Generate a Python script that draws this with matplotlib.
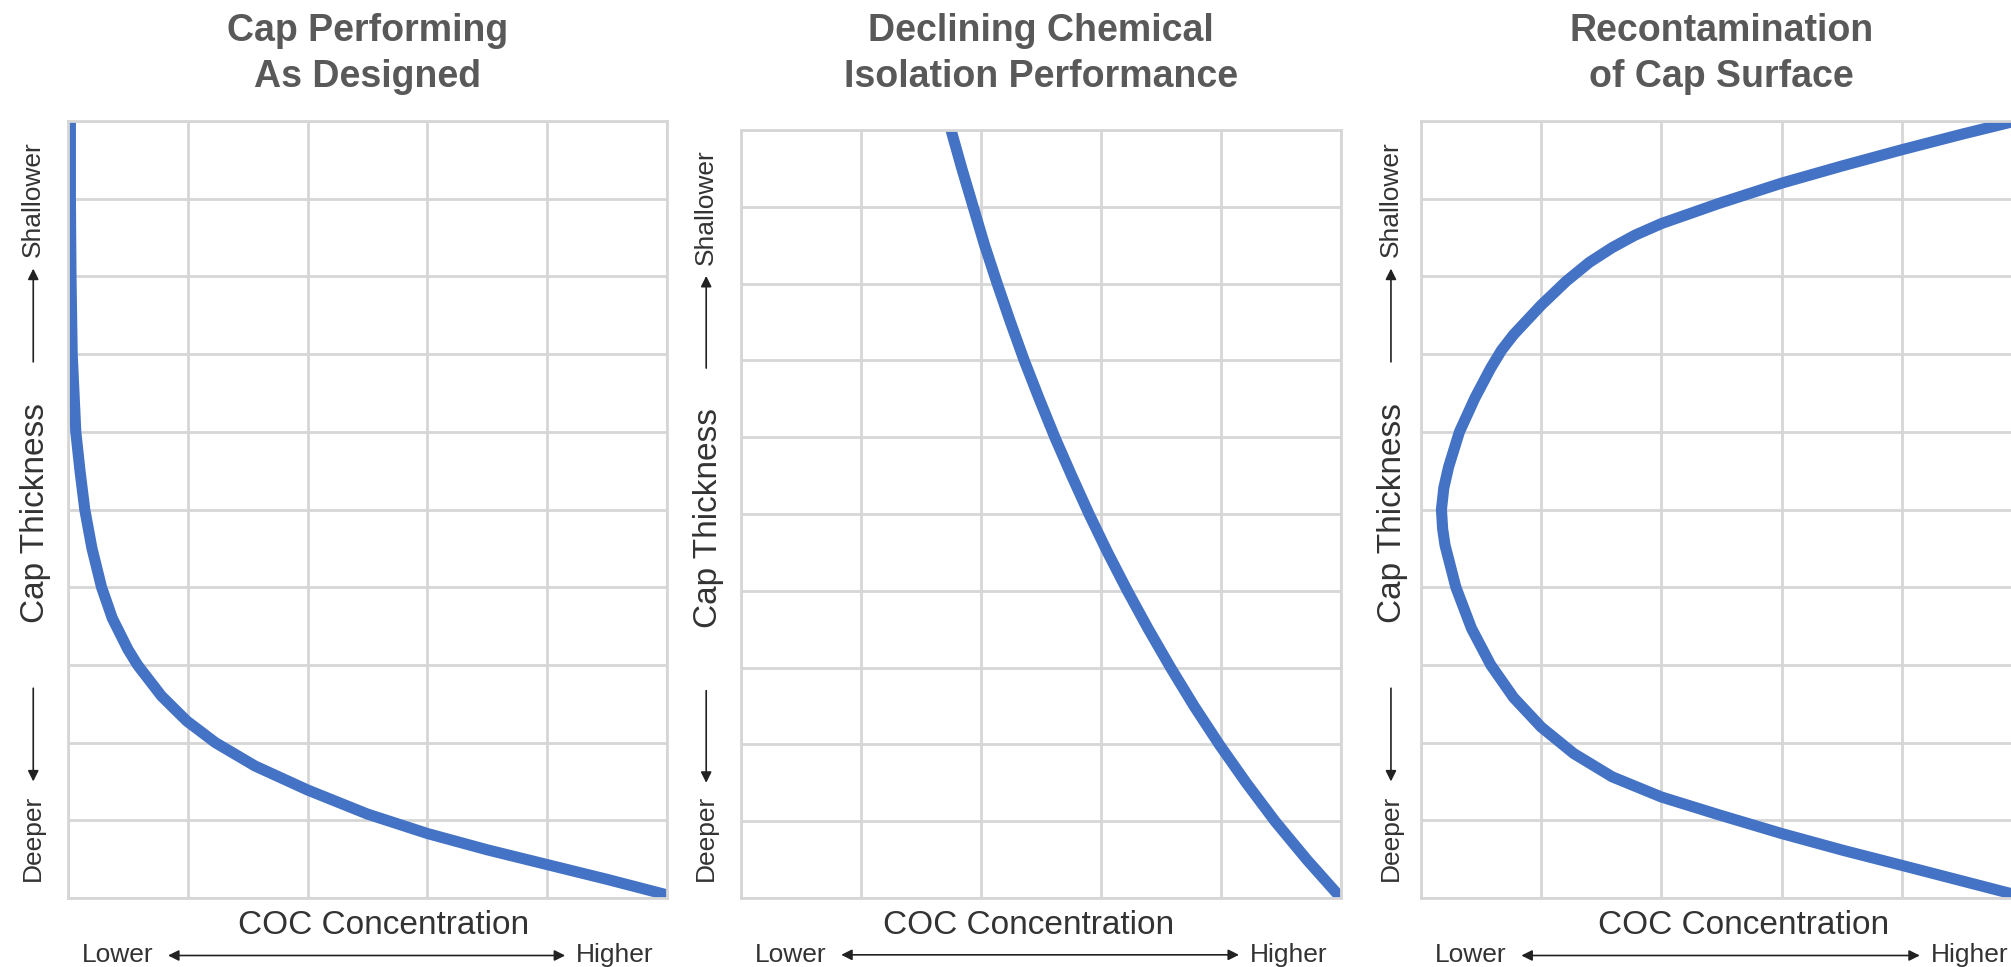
import matplotlib
matplotlib.use('Agg')
import matplotlib.pyplot as plt

plt.rcParams['font.family'] = ['Liberation Sans', 'DejaVu Sans']

# Farben
LINE_COLOR = "#4472C4"
GRID_COLOR = "#d6d6d6"
TITLE_COLOR = "#595959"
TEXT_COLOR = "#333333"

# Daten (x = COC-Konzentration 0..5, y = Kappendicke 0 tief .. 10 flach)
titles = ["Cap Performing\nAs Designed",
          "Declining Chemical\nIsolation Performance",
          "Recontamination\nof Cap Surface"]

designed_x = [0.02, 0.02, 0.025, 0.035, 0.05, 0.065, 0.1, 0.14, 0.2, 0.28, 0.37, 0.5,
              0.58, 0.78, 0.99, 1.23, 1.56, 2.0, 2.5, 3.0, 3.5, 4.0, 4.5, 5.0]
designed_y = [10, 9, 8, 7, 6.5, 6, 5.5, 5, 4.5, 4, 3.6, 3.2,
              3.0, 2.6, 2.28, 2.0, 1.7, 1.39, 1.08, 0.83, 0.62, 0.43, 0.24, 0.04]

declining_x = [1.75, 1.84, 1.935, 2.03, 2.135, 2.245, 2.36, 2.485, 2.615, 2.755, 2.9,
               3.055, 3.22, 3.395, 3.58, 3.775, 3.985, 4.21, 4.45, 4.715, 5.0]
declining_y = [10, 9.5, 9, 8.5, 8, 7.5, 7, 6.5, 6, 5.5, 5,
               4.5, 4, 3.5, 3, 2.5, 2, 1.5, 1, 0.5, 0]

recontam_x = [5.0, 4.5, 4.0, 3.5, 3.0, 2.48, 2.0, 1.78, 1.59, 1.4, 1.21, 1.0, 0.77, 0.67,
              0.58, 0.45, 0.32, 0.23, 0.19, 0.17, 0.18, 0.2, 0.29, 0.42, 0.58, 0.77, 1.0,
              1.27, 1.59, 2.0, 2.48, 3.0, 3.52, 4.0, 4.5, 5.0]
recontam_y = [10.02, 9.83, 9.63, 9.42, 9.2, 8.94, 8.68, 8.53, 8.37, 8.18, 7.94, 7.63, 7.25, 7.05,
              6.82, 6.44, 6.0, 5.55, 5.28, 5.0, 4.75, 4.54, 4.0, 3.47, 3.0, 2.58, 2.2,
              1.86, 1.56, 1.3, 1.07, 0.83, 0.61, 0.42, 0.22, 0.02]

curves = [(designed_x, designed_y), (declining_x, declining_y), (recontam_x, recontam_y)]

# Layout in Pixeln (links, oben, rechts, unten)
W, H = 2011, 967
boxes = [(68, 121, 667, 898), (741, 130, 1341, 898), (1421, 121, 2022, 898)]
coc_x = [0.526, 0.48, 0.537]
ylab_x = [-0.055, -0.055, -0.047]

fig = plt.figure(figsize=(W / 100, H / 100), dpi=100)

for i, (l, t, r, b) in enumerate(boxes):
    ax = fig.add_axes([l / W, 1 - b / H, (r - l) / W, (b - t) / H])
    ax.set_xlim(0, 5)
    ax.set_ylim(0, 10)
    ax.set_xticks(range(6))
    ax.set_yticks(range(11))
    ax.tick_params(length=0, labelbottom=False, labelleft=False)
    ax.grid(True, color=GRID_COLOR, linewidth=2)
    for s in ax.spines.values():
        s.set_color(GRID_COLOR)
        s.set_linewidth(2)

    x, y = curves[i]
    ax.plot(x, y, color=LINE_COLOR, linewidth=8, solid_capstyle='butt', solid_joinstyle='round')

    # Titel
    fig.text((l + r) / 2 / W, 1 - 54 / H, titles[i], ha='center', va='center',
             fontsize=27, fontweight='bold', color=TITLE_COLOR, linespacing=1.33)

    # x-Achse
    ax.text(coc_x[i], -0.036, "COC Concentration", transform=ax.transAxes,
            ha='center', va='center', fontsize=24, color=TEXT_COLOR)
    ax.text(0.083, -0.074, "Lower", transform=ax.transAxes,
            ha='center', va='center', fontsize=19, color=TEXT_COLOR)
    ax.text(0.913, -0.074, "Higher", transform=ax.transAxes,
            ha='center', va='center', fontsize=19, color=TEXT_COLOR)
    ax.annotate('', xy=(0.83, -0.074), xytext=(0.167, -0.074), xycoords='axes fraction',
                arrowprops=dict(arrowstyle='<|-|>', color='#222222', lw=1.2,
                                mutation_scale=16, shrinkA=0, shrinkB=0),
                annotation_clip=False)

    # y-Achse
    yl = ylab_x[i]
    ax.text(yl, 0.495, "Cap Thickness", transform=ax.transAxes, rotation=90,
            ha='center', va='center', fontsize=24, color=TEXT_COLOR)
    ax.text(yl - 0.003, 0.9, "Shallower", transform=ax.transAxes, rotation=90,
            ha='center', va='center', fontsize=19, color=TEXT_COLOR)
    ax.text(yl - 0.003, 0.078, "Deeper", transform=ax.transAxes, rotation=90,
            ha='center', va='center', fontsize=19, color=TEXT_COLOR)
    ax.annotate('', xy=(yl - 0.003, 0.81), xytext=(yl - 0.003, 0.69), xycoords='axes fraction',
                arrowprops=dict(arrowstyle='-|>', color='#222222', lw=1.2,
                                mutation_scale=16, shrinkA=0, shrinkB=0),
                annotation_clip=False)
    ax.annotate('', xy=(yl - 0.003, 0.15), xytext=(yl - 0.003, 0.27), xycoords='axes fraction',
                arrowprops=dict(arrowstyle='-|>', color='#222222', lw=1.2,
                                mutation_scale=16, shrinkA=0, shrinkB=0),
                annotation_clip=False)

plt.savefig('out.png', dpi=100, facecolor='white')
